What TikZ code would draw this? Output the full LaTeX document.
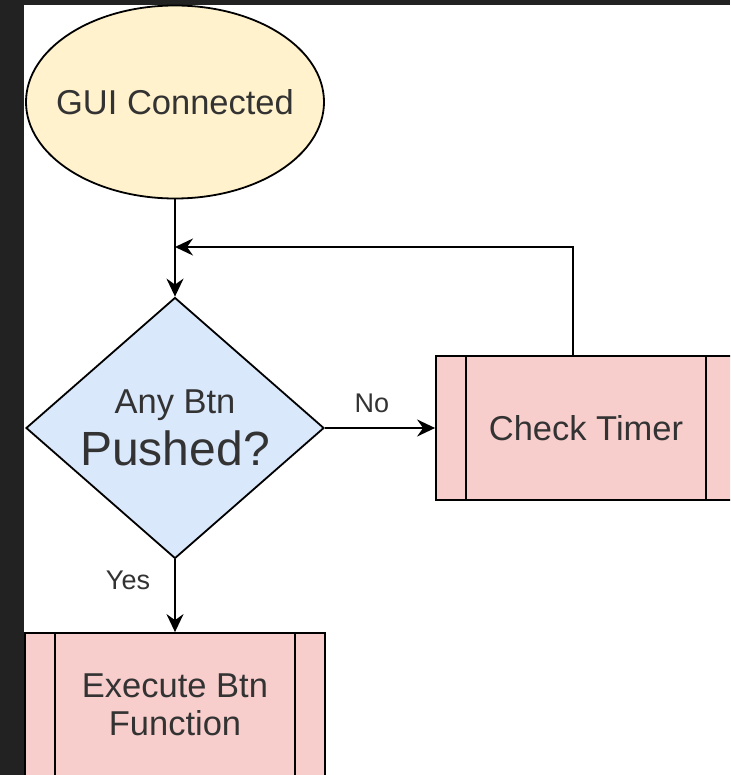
\documentclass[tikz,border=0pt]{standalone}
\usepackage{fontspec}
\setmainfont{Liberation Sans}
\usetikzlibrary{shapes.geometric,arrows.meta,calc}

\definecolor{frame}{HTML}{222222}
\definecolor{startfill}{HTML}{FFF2CC}
\definecolor{decfill}{HTML}{DAE8FC}
\definecolor{procfill}{HTML}{F8CECC}
\definecolor{txt}{HTML}{333333}

\tikzset{
  shapeline/.style={draw=black, line width=1.8pt},
  startnode/.style={shapeline, ellipse, fill=startfill, inner sep=0pt,
    minimum width=298pt, minimum height=193pt, text=txt,
    font=\fontsize{34.5}{40}\selectfont},
  decision/.style={shapeline, diamond, aspect=1.14, fill=decfill, inner sep=0pt,
    minimum width=298pt, minimum height=261pt, text=txt, align=center},
  process/.style={shapeline, rectangle, fill=procfill, inner sep=0pt,
    minimum width=300pt, minimum height=144pt, text=txt, align=center,
    font=\fontsize{34.5}{38}\selectfont,
    path picture={
      \draw[line width=1.8pt]
        ([xshift=30pt]path picture bounding box.north west) --
        ([xshift=30pt]path picture bounding box.south west);
      \draw[line width=1.8pt]
        ([xshift=-30pt]path picture bounding box.north east) --
        ([xshift=-30pt]path picture bounding box.south east);
    }},
  flow/.style={line width=2pt, -{Stealth[length=18pt,width=17pt,inset=6pt]}},
  edgelabel/.style={text=txt, font=\fontsize{27}{30}\selectfont, inner sep=0pt},
}

\begin{document}
\begin{tikzpicture}[x=1pt,y=-1pt]
  % page frame: dark surround with a white canvas
  \fill[frame] (0,0) rectangle (730,775);
  \fill[white] (24,5) rectangle (730,775);
  \useasboundingbox (0,0) rectangle (730,775);
  \clip (24,5) rectangle (730,775);

  % shapes (zero-width text boxes keep the outlines at their set sizes)
  \node[startnode] (gui) at (175,102) {\makebox[0pt]{GUI Connected}};
  \node[decision] (dec) at (175,428)
    {{\fontsize{34.5}{40}\selectfont Any Btn}\\[9pt]
     {\fontsize{48}{50}\selectfont Pushed?}};
  \node[process] (timer) at (586,428) {Check Timer};
  \node[process] (exec) at (175,705) {Execute Btn\\Function};

  % loop-back corner points
  \coordinate (looptop) at (573,247);
  \coordinate (loopin) at (gui.south |- looptop);

  % connectors
  \draw[flow] (gui.south) -- (dec.north);
  \draw[flow] (timer.north -| looptop) -- (looptop) -- (loopin);
  \draw[flow] (dec.east) -- (timer.west);
  \draw[flow] (dec.south) -- (exec.north);

  % branch labels
  \node[edgelabel] (nolabel) at (372,403) {No};
  \node[edgelabel] (yeslabel) at (128,580) {Yes};
\end{tikzpicture}
\end{document}
